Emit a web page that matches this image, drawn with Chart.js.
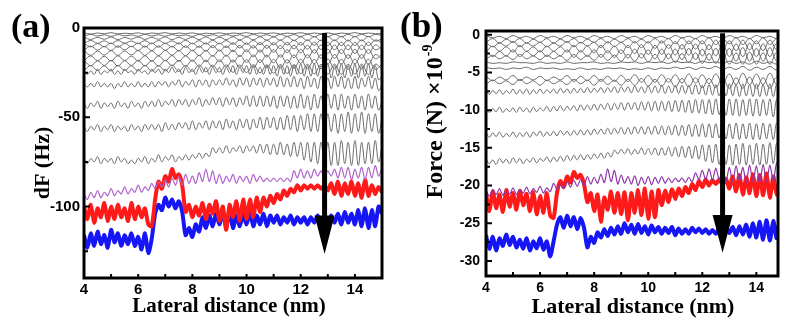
<!DOCTYPE html>
<html>
<head>
<meta charset="utf-8">
<script src="https://cdn.jsdelivr.net/npm/chart.js@4.4.1/dist/chart.umd.min.js"></script>
<style>
  body { margin: 0; background: #fff; }
  .panel { position: absolute; top: 0; }
</style>
</head>
<body>
<div class="panel" style="left:0"><canvas id="chartA" width="400" height="330"></canvas></div>
<div class="panel" style="left:400px"><canvas id="chartB" width="399" height="330"></canvas></div>
<script>
// sample positions along the lateral distance (nm)
const xFine = [4,4.125,4.25,4.375,4.5,4.625,4.75,4.875,5,5.125,5.25,5.375,5.5,5.625,5.75,5.875,
  6,6.125,6.25,6.375,6.5,6.625,6.75,6.875,7,7.125,7.25,7.375,7.5,7.625,7.75,7.875,
  8,8.125,8.25,8.375,8.5,8.625,8.75,8.875,9,9.125,9.25,9.375,9.5,9.625,9.75,9.875,
  10,10.125,10.25,10.375,10.5,10.625,10.75,10.875,11,11.125,11.25,11.375,11.5,11.625,11.75,11.875,
  12,12.125,12.25,12.375,12.5,12.625,12.75,12.875,13,13.125,13.25,13.375,13.5,13.625,13.75,13.875,
  14,14.125,14.25,14.375,14.5,14.625,14.75,14.875,15];
const xCoarse = [4,4.25,4.5,4.75,5,5.25,5.5,5.75,6,6.25,6.5,6.75,7,7.25,7.5,7.75,8,8.25,8.5,8.75,
  9,9.25,9.5,9.75,10,10.25,10.5,10.75,11,11.25,11.5,11.75,12,12.25,12.5,12.75,13,13.25,13.5,13.75,14,14.25,14.5,14.75,15];

// ---- panel (a): frequency shift dF (Hz) ----
const dfRed = [-100,-107,-99,-109,-101,-106,-98,-108,-100,-107,-99,-106,-101,-108,-98,-107,-100,-106,-101,-110,
  -111,-96,-86,-90,-83,-86,-79,-84,-82,-88,-103,-99,-106,-100,-105,-98,-107,-99,-104,-97,
  -108,-100,-113,-99,-106,-97,-108,-96,-107,-96,-106,-95,-103,-95,-100,-94,-98,-93,-96,-91,
  -94,-90,-92,-88,-91,-88,-90,-88,-90,-88,-90,-88,-91,-87,-93,-86,-94,-87,-93,-86,
  -94,-87,-95,-85,-94,-88,-93,-89,-92];
const dfBlue = [-116,-123,-115,-122,-114,-121,-116,-123,-113,-120,-115,-122,-116,-121,-115,-122,-117,-124,-115,-126,
  -118,-104,-99,-102,-95,-100,-96,-101,-97,-103,-116,-112,-117,-110,-114,-106,-112,-105,-111,-104,
  -110,-104,-111,-103,-112,-105,-111,-104,-110,-103,-111,-105,-110,-104,-111,-105,-109,-105,-110,-106,
  -109,-105,-110,-106,-109,-106,-110,-106,-109,-105,-110,-106,-110,-105,-109,-104,-110,-103,-109,-104,
  -110,-102,-111,-101,-112,-102,-111,-100,-104];
const dfPurple = [-93,-96,-92,-95,-91,-95,-92,-94,-90,-94,-91,-93,-89,-93,-90,-92,-88,-92,-89,-91,
  -87,-90,-86,-89,-85,-89,-84,-88,-83,-88,-82,-87,-83,-87,-81,-86,-79,-86,-80,-87,
  -82,-87,-83,-86,-82,-87,-83,-86,-83,-87,-82,-86,-83,-86,-84,-86,-84,-86,-84,-86,
  -84,-86,-80,-84,-79,-84,-80,-84,-79,-83,-80,-84,-80,-83,-79,-84,-78,-84,-78,-85,
  -79,-84,-78,-85,-78,-84,-77,-83,-78];
const dfBlack1 = [-73,-76,-73,-75,-72,-76,-73,-75,-73,-76,-72,-75,-73,-76,-74,-76,-73,-75,-72,-76,
  -73,-75,-71,-75,-72,-74,-71,-75,-72,-74,-71,-74,-71,-73,-70,-73,-70,-72,-67,-70,
  -67,-70,-66,-70,-67,-69,-66,-70,-66,-69,-66,-70,-65,-70,-65,-71,-65,-71,-64,-71,
  -65,-72,-64,-72,-64,-74,-64,-75,-64,-76,-64,-77,-64,-77,-64,-77,-63,-76,-64,-77,
  -63,-77,-64,-76,-64,-76,-63,-75,-66];
const dfBlack2 = [-55,-58,-55,-57,-54,-58,-55,-57,-54,-58,-55,-57,-55,-58,-54,-57,-55,-58,-54,-57,
  -54,-57,-54,-58,-53,-57,-54,-57,-53,-56,-53,-57,-52,-57,-53,-56,-52,-57,-52,-56,
  -52,-57,-51,-56,-52,-57,-51,-56,-51,-57,-51,-56,-50,-57,-50,-56,-50,-57,-50,-57,
  -49,-57,-49,-58,-49,-57,-48,-58,-48,-58,-48,-59,-48,-58,-48,-59,-48,-58,-47,-59,
  -48,-58,-47,-59,-48,-58,-48,-59,-50];
const dfBlack3 = [-42,-45,-42,-44,-41,-45,-42,-44,-42,-45,-41,-44,-42,-45,-41,-44,-42,-45,-41,-44,
  -41,-44,-40,-44,-41,-43,-40,-44,-40,-43,-40,-44,-40,-43,-39,-44,-40,-43,-39,-43,
  -39,-44,-39,-43,-39,-44,-39,-43,-38,-44,-38,-44,-38,-44,-38,-44,-38,-45,-38,-44,
  -38,-45,-38,-45,-37,-45,-38,-46,-37,-45,-38,-46,-37,-45,-37,-46,-37,-45,-38,-46,
  -37,-45,-38,-46,-37,-45,-38,-46,-41];
const dfBlack4 = [-31,-33,-31,-33,-30,-33,-31,-33,-31,-34,-31,-33,-30,-33,-31,-33,-30,-33,-31,-33,
  -30,-33,-30,-32,-30,-33,-30,-32,-29,-33,-30,-32,-29,-33,-29,-32,-29,-33,-29,-32,
  -29,-32,-28,-32,-29,-33,-28,-32,-28,-33,-28,-32,-28,-33,-28,-32,-28,-33,-27,-33,
  -28,-33,-27,-33,-28,-34,-27,-33,-28,-34,-27,-33,-28,-34,-27,-33,-27,-34,-28,-34,
  -27,-34,-28,-33,-27,-34,-28,-35,-32];
const dfBlack5 = [-24,-26,-24,-26,-23,-26,-24,-25,-23,-26,-24,-26,-23,-25,-24,-26,-23,-25,-24,-26,
  -23,-25,-23,-26,-23,-25,-22,-25,-23,-26,-22,-25,-23,-26,-22,-25,-22,-26,-22,-25,
  -22,-26,-22,-25,-21,-26,-22,-25,-21,-26,-21,-26,-22,-26,-21,-26,-21,-27,-21,-26,
  -21,-27,-21,-26,-20,-27,-21,-27,-20,-27,-21,-27,-20,-28,-21,-27,-20,-28,-21,-27,
  -20,-28,-21,-27,-20,-28,-21,-29,-27];
// dense group of early approach curves (coarse sampling)
const dfTop1 = [-2.7,-3.4,-2.8,-3.2,-2.6,-3.3,-2.9,-3.2,-2.7,-3.4,-2.8,-3.1,-2.6,-3.3,-2.8,-3.2,-2.7,-3.4,-2.9,-3.2,
  -2.7,-3.3,-2.8,-3.1,-2.6,-3.3,-2.8,-3.2,-2.7,-3.4,-2.8,-3.2,-2.6,-3.3,-2.8,-3.2,-2.7,-3.4,-2.8,-3.2,-2.6,-3.3,-2.8,-3.2,-3.0];
const dfTop2 = [-4.6,-3.6,-4.5,-3.8,-4.7,-3.7,-4.4,-3.9,-4.6,-3.6,-4.5,-3.8,-4.6,-3.7,-4.4,-3.9,-4.7,-3.6,-4.5,-3.8,
  -4.6,-3.7,-4.5,-3.8,-4.7,-3.6,-4.6,-3.8,-4.8,-3.6,-4.7,-3.7,-4.8,-3.5,-4.9,-3.6,-4.8,-3.5,-4.9,-3.6,-4.8,-3.5,-4.9,-3.6,-4.2];
const dfTop3 = [-5.1,-6.4,-5.2,-6.3,-5.0,-6.5,-5.3,-6.2,-5.1,-6.4,-5.2,-6.3,-5.0,-6.5,-5.2,-6.4,-5.1,-6.5,-5.0,-6.6,
  -5.1,-6.5,-4.9,-6.7,-5.0,-6.6,-4.9,-6.8,-5.0,-6.9,-4.8,-7.0,-4.9,-7.1,-4.8,-7.2,-4.9,-7.1,-4.7,-7.3,-4.8,-7.2,-4.7,-7.3,-6.0];
const dfTop4 = [-8.7,-7.0,-8.6,-7.2,-8.8,-7.0,-8.5,-7.3,-8.7,-7.1,-8.8,-7.0,-8.6,-7.2,-8.9,-6.9,-8.8,-7.1,-9.0,-6.9,
  -8.9,-7.0,-9.1,-6.8,-9.2,-6.9,-9.3,-6.8,-9.4,-6.7,-9.5,-6.8,-9.6,-6.6,-9.7,-6.7,-9.8,-6.6,-9.9,-6.7,-9.8,-6.6,-9.9,-6.7,-8.3];
const dfTop5 = [-8.5,-10.6,-8.7,-10.5,-8.4,-10.8,-8.6,-10.5,-8.5,-10.7,-8.4,-10.8,-8.6,-10.6,-8.3,-10.9,-8.5,-10.8,-8.3,-11.0,
  -8.4,-11.0,-8.2,-11.2,-8.3,-11.3,-8.1,-11.4,-8.2,-11.6,-8.0,-11.7,-8.1,-11.8,-7.9,-12.0,-8.0,-12.1,-7.9,-12.2,-8.0,-12.1,-7.9,-12.2,-10.2];
const dfTop6 = [-12.5,-10.1,-12.4,-10.3,-12.6,-10.0,-12.3,-10.2,-12.6,-10.1,-12.7,-10.0,-12.5,-10.2,-12.8,-9.9,-12.8,-10.1,-13.0,-9.8,
  -13.0,-10.0,-13.2,-9.8,-13.3,-9.9,-13.5,-9.7,-13.6,-9.8,-13.8,-9.6,-13.9,-9.7,-14.1,-9.5,-14.2,-9.6,-14.3,-9.5,-14.2,-9.6,-14.3,-9.5,-12.0];
const dfTop7 = [-12.7,-15.3,-12.9,-15.2,-12.6,-15.4,-12.8,-15.1,-12.6,-15.4,-12.7,-15.5,-12.5,-15.3,-12.6,-15.6,-12.4,-15.6,-12.5,-15.8,
  -12.3,-15.8,-12.4,-16.0,-12.2,-16.1,-12.3,-16.3,-12.1,-16.4,-12.2,-16.6,-12.0,-16.7,-12.1,-16.9,-11.9,-17.0,-12.0,-17.1,-11.9,-17.0,-12.0,-17.2,-14.5];
const dfTop8 = [-18.4,-15.6,-18.3,-15.8,-18.5,-15.5,-18.2,-15.7,-18.5,-15.5,-18.6,-15.6,-18.4,-15.4,-18.7,-15.5,-18.7,-15.3,-18.9,-15.4,
  -18.9,-15.2,-19.1,-15.3,-19.2,-15.1,-19.4,-15.2,-19.5,-15.0,-19.7,-15.1,-19.8,-14.9,-20.0,-15.0,-20.1,-14.8,-20.2,-14.9,-20.1,-14.8,-20.3,-14.9,-17.5];
const dfTop9 = [-18.2,-21.2,-18.4,-21.0,-18.1,-21.3,-18.3,-21.0,-18.1,-21.3,-18.2,-21.4,-18.0,-21.2,-18.1,-21.5,-17.9,-21.5,-18.0,-21.7,
  -17.8,-21.8,-17.9,-22.0,-17.7,-22.1,-17.8,-22.3,-17.6,-22.4,-17.7,-22.6,-17.5,-22.7,-17.6,-22.9,-17.4,-23.0,-17.5,-23.1,-17.4,-23.0,-17.5,-23.2,-20.3];
const dfTop10 = [-24.0,-21.0,-23.8,-21.2,-24.1,-20.9,-23.8,-21.1,-24.1,-20.9,-24.2,-21.0,-24.0,-20.8,-24.3,-20.9,-24.3,-20.7,-24.5,-20.8,
  -24.6,-20.6,-24.8,-20.7,-24.9,-20.5,-25.1,-20.6,-25.2,-20.4,-25.4,-20.5,-25.5,-20.3,-25.7,-20.4,-25.8,-20.2,-25.9,-20.3,-25.8,-20.2,-26.0,-20.3,-23.0];

// ---- panel (b): force (x1e-9 N) ----
const fRed = [-21.0,-23.4,-20.8,-23.0,-21.2,-23.5,-20.6,-22.8,-21.0,-23.2,-20.7,-22.6,-21.1,-23.4,-20.9,-23.8,-21.4,-23.6,-21.0,-24.0,
  -24.3,-21.0,-19.4,-20.2,-18.8,-19.6,-18.2,-19.0,-18.6,-19.8,-22.2,-21.0,-23.4,-21.2,-24.8,-21.6,-23.2,-20.8,-23.6,-21.0,
  -23.8,-20.9,-24.6,-21.0,-23.6,-20.6,-23.9,-20.4,-24.4,-20.8,-24.2,-20.6,-22.6,-20.7,-22.2,-20.5,-21.8,-20.4,-21.4,-20.2,
  -21.0,-19.8,-20.6,-19.4,-20.2,-19.2,-20.0,-19.3,-19.8,-19.2,-19.9,-19.1,-20.4,-18.8,-20.8,-18.6,-21.2,-18.9,-21.0,-18.5,
  -21.4,-18.6,-21.3,-18.4,-21.6,-18.8,-21.2,-19.2,-21.8];
const fBlue = [-26.6,-28.4,-26.8,-28.6,-27.0,-28.0,-26.5,-27.9,-26.8,-28.2,-27.2,-28.4,-27.0,-28.6,-27.4,-28.3,-27.0,-28.5,-27.4,-29.4,
  -27.4,-25.2,-24.2,-25.6,-24.0,-25.4,-24.2,-25.8,-24.3,-25.6,-28.2,-26.8,-27.6,-26.2,-26.9,-25.8,-26.7,-25.6,-26.5,-25.4,
  -26.4,-25.0,-26.2,-25.2,-26.4,-25.1,-26.3,-25.4,-26.5,-25.3,-26.2,-25.5,-26.4,-25.6,-26.3,-25.5,-26.6,-25.7,-26.4,-25.8,
  -26.4,-25.6,-26.2,-25.7,-26.3,-25.8,-26.4,-25.9,-26.4,-25.7,-26.5,-25.6,-26.3,-25.5,-26.6,-25.4,-26.5,-25.2,-26.8,-25.0,
  -26.9,-24.8,-27.2,-24.6,-27.3,-24.7,-27.0,-24.4,-25.0];
const fPurple = [-20.6,-21.4,-20.5,-21.2,-20.4,-21.3,-20.6,-21.1,-20.3,-21.2,-20.5,-21.0,-20.2,-21.1,-20.4,-20.9,-20.1,-21.0,-20.3,-20.8,
  -19.7,-20.5,-19.8,-20.4,-19.5,-20.2,-19.3,-20.1,-19.2,-20.0,-18.8,-19.8,-18.9,-19.7,-18.5,-19.6,-17.8,-19.5,-18.0,-19.8,
  -18.6,-19.7,-18.8,-19.8,-18.7,-20.0,-18.9,-19.8,-18.8,-19.9,-18.9,-19.7,-18.8,-19.7,-19.0,-19.6,-19.0,-19.5,-19.0,-19.6,
  -18.9,-19.5,-18.3,-19.2,-18.0,-19.2,-17.8,-19.3,-17.7,-19.2,-17.8,-19.4,-17.6,-19.5,-17.4,-19.4,-17.6,-19.6,-17.3,-19.5,
  -17.4,-19.6,-17.2,-19.5,-17.3,-19.4,-17.0,-19.2,-18.2];
const fBlack1 = [-16.5,-17.1,-16.6,-17.2,-16.4,-17.0,-16.5,-17.1,-16.3,-17.0,-16.4,-17.1,-16.5,-16.9,-16.3,-17.0,-16.4,-16.8,-16.2,-16.9,
  -16.2,-16.8,-16.1,-16.8,-16.0,-16.7,-16.0,-16.6,-15.9,-16.6,-15.9,-16.5,-15.8,-16.4,-15.7,-16.4,-15.6,-16.2,-15.3,-15.8,
  -15.2,-15.8,-15.1,-15.9,-15.2,-15.8,-15.0,-15.9,-15.1,-15.9,-15.0,-16.0,-15.0,-16.0,-14.9,-16.1,-14.9,-16.2,-14.8,-16.3,
  -14.8,-16.4,-14.7,-16.5,-14.6,-16.8,-14.6,-17.0,-14.5,-17.2,-14.5,-17.2,-14.6,-17.3,-14.5,-17.2,-14.4,-17.3,-14.6,-17.2,
  -14.4,-17.3,-14.5,-17.2,-14.3,-17.1,-14.4,-17.2,-15.8];
const fBlack2 = [-13.0,-13.6,-13.0,-13.5,-12.9,-13.6,-13.1,-13.5,-12.9,-13.6,-13.0,-13.5,-12.9,-13.6,-12.9,-13.4,-12.8,-13.5,-12.9,-13.4,
  -12.8,-13.4,-12.7,-13.3,-12.8,-13.4,-12.7,-13.3,-12.6,-13.3,-12.6,-13.3,-12.5,-13.2,-12.5,-13.2,-12.4,-13.2,-12.4,-13.1,
  -12.3,-13.2,-12.3,-13.2,-12.2,-13.1,-12.2,-13.2,-12.2,-13.2,-12.1,-13.2,-12.1,-13.3,-12.1,-13.3,-12.0,-13.4,-12.0,-13.4,
  -11.9,-13.5,-11.9,-13.5,-11.8,-13.6,-11.8,-13.7,-11.8,-13.7,-11.7,-13.8,-11.8,-13.8,-11.7,-13.9,-11.8,-13.8,-11.7,-13.9,
  -11.8,-13.9,-11.7,-13.8,-11.8,-13.9,-11.7,-13.8,-13.0];
const fBlack3 = [-9.7,-10.3,-9.8,-10.2,-9.6,-10.3,-9.8,-10.2,-9.7,-10.3,-9.6,-10.2,-9.7,-10.3,-9.6,-10.2,-9.7,-10.1,-9.5,-10.2,
  -9.5,-10.1,-9.4,-10.1,-9.5,-10.0,-9.4,-10.1,-9.3,-10.0,-9.3,-10.0,-9.2,-10.0,-9.2,-9.9,-9.1,-10.0,-9.1,-9.9,
  -9.0,-10.0,-9.0,-9.9,-9.0,-10.0,-8.9,-10.0,-8.9,-10.1,-8.8,-10.1,-8.8,-10.1,-8.8,-10.2,-8.7,-10.2,-8.7,-10.3,
  -8.7,-10.4,-8.6,-10.4,-8.6,-10.5,-8.6,-10.6,-8.5,-10.6,-8.6,-10.7,-8.5,-10.7,-8.5,-10.8,-8.6,-10.7,-8.5,-10.8,
  -8.5,-10.8,-8.6,-10.7,-8.5,-10.9,-8.6,-10.8,-9.8];
const fBlack4 = [-7.3,-7.9,-7.4,-7.8,-7.3,-7.9,-7.4,-7.8,-7.2,-7.9,-7.3,-7.8,-7.2,-7.9,-7.3,-7.8,-7.2,-7.8,-7.3,-7.7,
  -7.2,-7.8,-7.1,-7.7,-7.2,-7.8,-7.1,-7.7,-7.1,-7.7,-7.0,-7.7,-7.1,-7.6,-7.0,-7.7,-7.0,-7.6,-6.9,-7.7,
  -6.9,-7.6,-6.9,-7.7,-6.8,-7.6,-6.9,-7.7,-6.8,-7.7,-6.8,-7.7,-6.7,-7.8,-6.8,-7.7,-6.7,-7.8,-6.7,-7.8,
  -6.7,-7.9,-6.6,-7.9,-6.7,-8.0,-6.6,-8.0,-6.6,-8.1,-6.6,-8.1,-6.5,-8.1,-6.6,-8.2,-6.5,-8.1,-6.6,-8.2,
  -6.5,-8.2,-6.6,-8.1,-6.5,-8.2,-6.6,-8.3,-7.8];
const fTop1 = [-0.1,-0.4,-0.2,-0.5,-0.1,-0.4,-0.2,-0.5,-0.1,-0.4,-0.2,-0.5,-0.1,-0.4,-0.2,-0.5,-0.1,-0.4,-0.2,-0.5,
  -0.1,-0.4,-0.2,-0.5,-0.1,-0.4,-0.2,-0.5,-0.1,-0.4,-0.2,-0.5,-0.1,-0.4,-0.2,-0.5,-0.1,-0.4,-0.2,-0.5,-0.1,-0.4,-0.2,-0.5,-0.3];
const fTop2 = [-1.0,-0.5,-1.1,-0.6,-1.0,-0.5,-1.1,-0.6,-1.0,-0.5,-1.1,-0.6,-1.0,-0.5,-1.1,-0.6,-1.0,-0.5,-1.1,-0.6,
  -1.0,-0.5,-1.1,-0.6,-1.1,-0.5,-1.1,-0.5,-1.2,-0.4,-1.2,-0.5,-1.2,-0.4,-1.3,-0.5,-1.2,-0.4,-1.3,-0.5,-1.2,-0.4,-1.3,-0.5,-0.8];
const fTop3 = [-1.0,-1.6,-1.1,-1.5,-0.9,-1.6,-1.1,-1.5,-1.0,-1.6,-1.1,-1.5,-0.9,-1.6,-1.0,-1.5,-1.0,-1.7,-0.9,-1.6,
  -1.0,-1.7,-0.9,-1.7,-0.9,-1.8,-0.8,-1.8,-0.9,-1.9,-0.8,-1.9,-0.8,-2.0,-0.7,-2.0,-0.8,-2.1,-0.7,-2.0,-0.8,-2.1,-0.7,-2.0,-1.4];
const fTop4 = [-2.3,-1.5,-2.2,-1.6,-2.3,-1.4,-2.2,-1.6,-2.3,-1.5,-2.2,-1.6,-2.3,-1.4,-2.3,-1.5,-2.4,-1.4,-2.4,-1.5,
  -2.5,-1.4,-2.5,-1.3,-2.6,-1.4,-2.6,-1.3,-2.7,-1.3,-2.7,-1.2,-2.8,-1.3,-2.8,-1.2,-2.9,-1.2,-2.9,-1.1,-2.9,-1.2,-2.9,-1.1,-2.0];
const fTop5 = [-2.1,-2.9,-2.2,-2.8,-2.0,-2.9,-2.2,-2.8,-2.1,-2.9,-2.2,-2.8,-2.0,-3.0,-2.1,-2.9,-2.0,-3.0,-2.1,-3.0,
  -2.0,-3.1,-1.9,-3.1,-2.0,-3.2,-1.9,-3.2,-1.9,-3.3,-1.8,-3.3,-1.9,-3.4,-1.8,-3.4,-1.8,-3.5,-1.7,-3.5,-1.8,-3.5,-1.7,-3.5,-2.6];
const fTop6 = [-3.3,-2.7,-3.2,-2.8,-3.3,-2.6,-3.2,-2.8,-3.3,-2.7,-3.2,-2.8,-3.4,-2.6,-3.3,-2.7,-3.4,-2.6,-3.4,-2.7,
  -3.5,-2.6,-3.5,-2.5,-3.6,-2.6,-3.6,-2.5,-3.7,-2.5,-3.7,-2.4,-3.8,-2.5,-3.8,-2.4,-3.9,-2.4,-3.9,-2.3,-3.9,-2.4,-3.9,-2.3,-3.1];
const fTop7 = [-3.6,-3.8,-3.7,-3.8,-3.6,-3.7,-3.7,-3.8,-3.6,-3.8,-3.7,-3.8,-3.6,-3.8,-3.7,-3.7,-3.6,-3.8,-3.7,-3.8,
  -3.6,-3.7,-3.6,-3.8,-3.6,-3.7,-3.6,-3.8,-3.5,-3.7,-3.6,-3.8,-3.5,-3.7,-3.6,-3.8,-3.5,-3.8,-3.6,-3.9,-3.5,-3.8,-3.6,-3.9,-3.7];
const fTop8 = [-4.3,-4.5,-4.4,-4.6,-4.4,-4.5,-4.3,-4.6,-4.4,-4.5,-4.4,-4.6,-4.5,-4.6,-4.4,-4.6,-4.5,-4.6,-4.4,-4.5,
  -4.4,-4.6,-4.5,-4.6,-4.4,-4.6,-4.4,-4.5,-4.3,-4.5,-4.3,-4.6,-4.3,-4.5,-4.2,-4.6,-4.3,-4.6,-4.2,-4.7,-4.3,-4.6,-4.2,-4.7,-4.4];
const fTop9 = [-5.5,-6.1,-5.6,-6.0,-5.4,-6.1,-5.6,-6.0,-5.5,-6.1,-5.6,-6.0,-5.4,-6.2,-5.5,-6.1,-5.4,-6.2,-5.5,-6.2,
  -5.4,-6.2,-5.3,-6.3,-5.4,-6.3,-5.3,-6.3,-5.3,-6.4,-5.2,-6.4,-5.3,-6.5,-5.2,-6.5,-5.2,-6.6,-5.1,-6.6,-5.2,-6.6,-5.1,-6.6,-5.8];
const fTop10 = [-6.6,-6.0,-6.5,-6.1,-6.6,-5.9,-6.5,-6.1,-6.7,-6.0,-6.5,-6.1,-6.6,-5.9,-6.5,-6.0,-6.7,-5.9,-6.6,-6.0,
  -6.7,-5.9,-6.7,-5.8,-6.8,-5.9,-6.8,-5.8,-6.9,-5.8,-6.9,-5.7,-7.0,-5.8,-7.0,-5.7,-7.1,-5.7,-7.1,-5.6,-7.1,-5.7,-7.1,-5.6,-6.3];

const xTitle = 'Lateral distance (nm)';

const GRAY = '#6a6a6a';

function line(xs, ys, color, width, tension) {
  return {
    data: ys.map((v, i) => ({ x: xs[i], y: v })),
    borderColor: color,
    borderWidth: width,
    pointRadius: 0,
    tension: tension,
    fill: false
  };
}

const framePlugin = {
  id: 'frame',
  afterDatasetsDraw(chart, args, o) {
    const { ctx, chartArea: a, scales: { x, y } } = chart;
    ctx.save();
    // arrow
    const ax = x.getPixelForValue(o.arrowX);
    const yTop = y.getPixelForValue(o.arrowTop);
    const yHead = y.getPixelForValue(o.arrowHead);
    const yTip = y.getPixelForValue(o.arrowTip);
    ctx.strokeStyle = '#000';
    ctx.fillStyle = '#000';
    ctx.lineWidth = 5;
    ctx.beginPath();
    ctx.moveTo(ax, yTop);
    ctx.lineTo(ax, yHead + 2);
    ctx.stroke();
    ctx.beginPath();
    ctx.moveTo(ax - 10, yHead);
    ctx.lineTo(ax + 10, yHead);
    ctx.lineTo(ax, yTip);
    ctx.closePath();
    ctx.fill();

    // frame
    ctx.lineWidth = 3;
    ctx.strokeRect(a.left, a.top, a.width, a.height);

    // inward tick marks
    ctx.lineWidth = 2;
    const yt = y.ticks.map(t => t.value);
    const yStep = yt[1] - yt[0];
    ctx.beginPath();
    for (let v = yt[0] - yStep / 2; v <= y.max; v += yStep / 2) {
      if (v < y.min) continue;
      const py = y.getPixelForValue(v);
      const major = yt.some(t => Math.abs(t - v) < 1e-6);
      ctx.moveTo(a.left, py);
      ctx.lineTo(a.left + (major ? 6 : 4), py);
    }
    for (let v = x.min; v <= x.max; v += 1) {
      const px = x.getPixelForValue(v);
      ctx.moveTo(px, a.bottom);
      ctx.lineTo(px, a.bottom - 4);
    }
    ctx.stroke();

    // panel letter
    ctx.font = 'bold ' + o.letterSize + 'px "Liberation Serif"';
    ctx.textAlign = 'left';
    ctx.textBaseline = 'middle';
    ctx.fillText(o.letter, o.letterX, o.letterY);

    // x title
    ctx.font = 'bold ' + o.xTitleSize + 'px "Liberation Serif"';
    ctx.textAlign = 'center';
    ctx.fillText(xTitle, o.xTitleX, o.xTitleY);

    // y title (rotated, optional superscript)
    ctx.translate(o.yTitleX, o.yTitleY);
    ctx.rotate(-Math.PI / 2);
    const supSize = Math.round(o.yTitleSize * 0.6);
    ctx.font = 'bold ' + o.yTitleSize + 'px "Liberation Serif"';
    const w = ctx.measureText(o.yTitle).width;
    let ws = 0;
    if (o.ySup) {
      ctx.font = 'bold ' + supSize + 'px "Liberation Serif"';
      ws = ctx.measureText(o.ySup).width;
    }
    const start = -(w + ws) / 2;
    ctx.textAlign = 'left';
    ctx.font = 'bold ' + o.yTitleSize + 'px "Liberation Serif"';
    ctx.fillText(o.yTitle, start, 0);
    if (o.ySup) {
      ctx.font = 'bold ' + supSize + 'px "Liberation Serif"';
      ctx.fillText(o.ySup, start + w + 1, -8);
    }
    ctx.restore();
  }
};

function makeChart(id, cfg) {
  const ds = [];
  cfg.top.forEach(s => ds.push(line(xCoarse, s, GRAY, 1, 0.4)));
  cfg.black.forEach(s => ds.push(line(xFine, s, GRAY, 1, 0.4)));
  ds.push(line(xFine, cfg.purple, cfg.purpleColor, 1.2, 0.3));
  ds.push(line(xFine, cfg.red, '#ff1a1a', 4, 0.25));
  ds.push(line(xFine, cfg.blue, '#1515f5', 4, 0.25));

  return new Chart(document.getElementById(id), {
    type: 'line',
    data: { datasets: ds },
    options: {
      responsive: false,
      animation: false,
      layout: { padding: cfg.padding },
      plugins: { legend: { display: false }, tooltip: { enabled: false }, frame: cfg.frame },
      scales: {
        x: {
          type: 'linear',
          min: 4, max: cfg.xMax,
          afterFit: s => { s.height = cfg.xHeight; },
          grid: { display: false, drawTicks: false },
          border: { display: false },
          ticks: { stepSize: 2, includeBounds: false, padding: cfg.xPad, color: '#000',
                   font: { family: 'Liberation Sans', weight: 'bold', size: cfg.tickSize } }
        },
        y: {
          min: cfg.yMin, max: cfg.yMax,
          afterFit: s => { s.width = cfg.yWidth; },
          grid: { display: false, drawTicks: false },
          border: { display: false },
          ticks: { stepSize: cfg.yStep, includeBounds: false, padding: cfg.yPad, color: '#000',
                   font: { family: 'Liberation Sans', weight: 'bold', size: cfg.tickSize } }
        }
      }
    },
    plugins: [framePlugin]
  });
}

makeChart('chartA', {
  top: [dfTop1, dfTop2, dfTop3, dfTop4, dfTop5, dfTop6, dfTop7, dfTop8, dfTop9, dfTop10],
  black: [dfBlack5, dfBlack4, dfBlack3, dfBlack2, dfBlack1],
  purple: dfPurple, purpleColor: '#b062cc',
  red: dfRed, blue: dfBlue,
  padding: { left: 0, right: 18, top: 28, bottom: 0 },
  xHeight: 52, yWidth: 84, xPad: 3, yPad: 4, tickSize: 15,
  xMax: 15, yMin: -140, yMax: 0, yStep: 50,
  frame: {
    arrowX: 12.88, arrowTop: -2.8, arrowHead: -105, arrowTip: -126.5,
    letter: '(a)', letterSize: 34, letterX: 11, letterY: 28,
    xTitleSize: 21, xTitleX: 229, xTitleY: 307,
    yTitle: 'dF (Hz)', ySup: '', yTitleSize: 22, yTitleX: 43, yTitleY: 163
  }
});

makeChart('chartB', {
  top: [fTop1, fTop2, fTop3, fTop4, fTop5, fTop6, fTop7, fTop8, fTop9, fTop10],
  black: [fBlack4, fBlack3, fBlack2, fBlack1],
  purple: fPurple, purpleColor: '#8e34aa',
  red: fRed, blue: fBlue,
  padding: { left: 0, right: 21, top: 31, bottom: 0 },
  xHeight: 54, yWidth: 86, xPad: 4, yPad: 6, tickSize: 14,
  xMax: 14.8, yMin: -32, yMax: 0.5, yStep: 5,
  frame: {
    arrowX: 12.75, arrowTop: 0.2, arrowHead: -23.9, arrowTip: -28.9,
    letter: '(b)', letterSize: 35, letterX: 0, letterY: 28,
    xTitleSize: 22, xTitleX: 233, xTitleY: 307,
    yTitle: 'Force (N) ×10', ySup: '-9', yTitleSize: 24, yTitleX: 36, yTitleY: 122
  }
});
</script>
</body>
</html>
